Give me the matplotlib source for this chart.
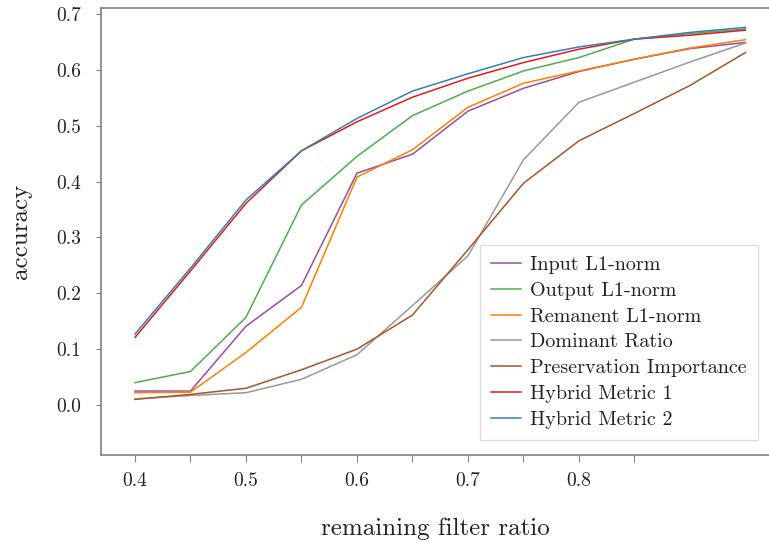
import matplotlib
matplotlib.use("Agg")
import matplotlib.pyplot as plt

plt.rcParams["font.family"] = ["cmr10", "DejaVu Serif"]
plt.rcParams["mathtext.fontset"] = "cm"
plt.rcParams["axes.formatter.use_mathtext"] = True

ratio = [0.4, 0.45, 0.5, 0.55, 0.6, 0.65, 0.7, 0.75, 0.8, 0.85, 0.9, 0.95]

input_l1 = [0.025, 0.025, 0.141, 0.214, 0.415, 0.449, 0.526, 0.567, 0.597, 0.619, 0.638, 0.649]
output_l1 = [0.040, 0.060, 0.157, 0.358, 0.445, 0.518, 0.562, 0.598, 0.622, 0.655, 0.665, 0.673]
remanent_l1 = [0.022, 0.023, 0.094, 0.175, 0.408, 0.457, 0.533, 0.576, 0.598, 0.619, 0.639, 0.654]
dominant = [0.011, 0.017, 0.022, 0.046, 0.090, 0.178, 0.267, 0.439, 0.542, 0.578, 0.614, 0.648]
preservation = [0.010, 0.019, 0.030, 0.063, 0.100, 0.161, 0.278, 0.397, 0.473, 0.522, 0.572, 0.631]
hybrid1 = [0.121, 0.240, 0.361, 0.455, 0.507, 0.551, 0.585, 0.613, 0.637, 0.655, 0.662, 0.671]
hybrid2 = [0.127, 0.245, 0.367, 0.455, 0.513, 0.562, 0.593, 0.622, 0.641, 0.655, 0.667, 0.676]

series = [
    ("Input L1-norm", input_l1, "#984ea3"),
    ("Output L1-norm", output_l1, "#4daf4a"),
    ("Remanent L1-norm", remanent_l1, "#ff7f00"),
    ("Dominant Ratio", dominant, "#999999"),
    ("Preservation Importance", preservation, "#a65628"),
    ("Hybrid Metric 1", hybrid1, "#e41a1c"),
    ("Hybrid Metric 2", hybrid2, "#377eb8"),
]

xticks = [0.4, 0.45, 0.5, 0.55, 0.6, 0.65, 0.7, 0.75, 0.8, 0.85]
xticklabels = ["0.4", "", "0.5", "", "0.6", "", "0.7", "", "0.8", ""]
yticks = [0.0, 0.1, 0.2, 0.3, 0.4, 0.5, 0.6, 0.7]


def main():
    fig = plt.figure(figsize=(7.69, 5.42), dpi=100)
    ax = fig.add_axes([101 / 769, (542 - 455) / 542, 668 / 769, 447 / 542])

    for name, vals, color in series:
        ax.plot(ratio, vals, color=color, lw=1.1, label=name)

    ax.set_xlim(0.3694, 0.9712)
    ax.set_ylim(-0.0895, 0.7107)

    ax.set_xticks(xticks)
    ax.set_xticklabels(xticklabels)
    ax.set_yticks(yticks)
    ax.set_yticklabels([f"{v:.1f}" for v in yticks])

    for side in ["left", "bottom", "top"]:
        ax.spines[side].set_color("#808080")
        ax.spines[side].set_linewidth(1.2)
    ax.spines["right"].set_visible(False)

    ax.tick_params(axis="x", length=5, width=0.8, color="#808080", pad=7,
                   labelsize=14, labelcolor="#222222")
    ax.tick_params(axis="y", length=3.5, width=0.8, color="#808080", pad=11,
                   labelsize=14, labelcolor="#222222")

    ax.set_xlabel("remaining filter ratio", fontsize=18, labelpad=20, color="#222222")
    ax.set_ylabel("accuracy", fontsize=18, labelpad=17, color="#222222")

    leg = ax.legend(loc="lower right", bbox_to_anchor=(0.983, 0.034),
                    borderaxespad=0, fontsize=14.5, handlelength=1.5,
                    handletextpad=0.45, labelspacing=0.38, borderpad=0.55,
                    fancybox=False, framealpha=1)
    leg.get_frame().set_edgecolor("#dddddd")
    leg.get_frame().set_linewidth(1.0)
    for t in leg.get_texts():
        t.set_color("#222222")

    fig.savefig("out.png", dpi=100)


if __name__ == "__main__":
    main()
